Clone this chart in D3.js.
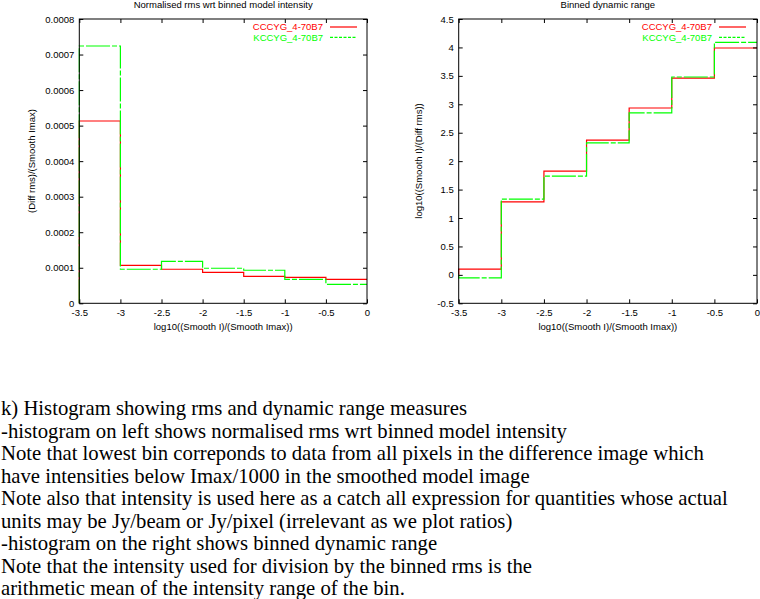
<!DOCTYPE html>
<html><head><meta charset="utf-8">
<script src="https://cdn.jsdelivr.net/npm/d3@7"></script>
<style>body{margin:0;background:#fff}svg{display:block}</style>
</head><body>
<svg id="c" width="760" height="599"></svg>
<script>
// ---- data ----
const binEdges = [-3.5, -3, -2.5, -2, -1.5, -1, -0.5, 0];
const seriesNames = ["CCCYG_4-70B7", "KCCYG_4-70B7"];
const rmsCCCYG = [0.000513, 0.000107, 0.0000958, 0.0000873, 0.0000760, 0.0000732, 0.0000676];
const rmsKCCYG = [0.000724, 0.0000958, 0.000118, 0.0000986, 0.0000930, 0.0000676, 0.0000535];
const drCCCYG = [0.10, 1.285, 1.826, 2.37, 2.935, 3.46, 3.99];
const drKCCYG = [-0.053, 1.333, 1.737, 2.32, 2.85, 3.48, 4.09];
const xTicks = [-3.5, -3, -2.5, -2, -1.5, -1, -0.5, 0];
const xTickLabels = ["-3.5", "-3", "-2.5", "-2", "-1.5", "-1", "-0.5", "0"];
const yTicksLeft = [0, 0.0001, 0.0002, 0.0003, 0.0004, 0.0005, 0.0006, 0.0007, 0.0008];
const yTickLabelsLeft = ["0", "0.0001", "0.0002", "0.0003", "0.0004", "0.0005", "0.0006", "0.0007", "0.0008"];
const yTicksRight = [-0.5, 0, 0.5, 1, 1.5, 2, 2.5, 3, 3.5, 4, 4.5];
const yTickLabelsRight = ["-0.5", "0", "0.5", "1", "1.5", "2", "2.5", "3", "3.5", "4", "4.5"];
const captionLines = [
  "k) Histogram showing rms and dynamic range measures",
  "-histogram on left shows normalised rms wrt binned model intensity",
  "Note that lowest bin correponds to data from all pixels in the difference image which",
  "have intensities below Imax/1000 in the smoothed model image",
  "Note also that intensity is used here as a catch all expression for quantities whose actual",
  "units may be Jy/beam or Jy/pixel (irrelevant as we plot ratios)",
  "-histogram on the right shows binned dynamic range",
  "Note that the intensity used for division by the binned rms is the",
  "arithmetic mean of the intensity range of the bin."
];

const svg = d3.select("#c");
const colors = ["#ff0000", "#00ff00"];
const FONT = "'Liberation Sans', Arial, sans-serif";

function panel(opt) {
  const x = d3.scaleLinear().domain([-3.5, 0]).range([opt.x0, opt.x1]);
  const y = d3.scaleLinear().domain(opt.yDomain).range([303.3, 19]);
  const g = svg.append("g");
  const fmtX = v => xTickLabels[xTicks.indexOf(v)];
  const fmtY = v => opt.yLabels[opt.yTicks.indexOf(v)];

  // step lines
  const line = d3.line().x(d => x(d[0])).y(d => y(d[1])).curve(d3.curveStepAfter);
  opt.series.forEach((vals, k) => {
    const pts = [[binEdges[0], 0]];
    vals.forEach((v, i) => pts.push([binEdges[i], v]));
    pts.push([binEdges[binEdges.length - 1], vals[vals.length - 1]]);
    g.append("path").attr("d", line(pts)).attr("fill", "none")
      .attr("stroke", colors[k]).attr("stroke-width", 1.2)
      .attr("stroke-dasharray", k === 1 ? "24,2,5,2" : null);
  });

  // border
  g.append("rect").attr("x", opt.x0).attr("y", 19).attr("width", opt.x1 - opt.x0).attr("height", 303.3 - 19)
    .attr("fill", "none").attr("stroke", "#000").attr("stroke-width", 1);

  const axStyle = sel => {
    sel.select(".domain").remove();
    sel.selectAll("text").attr("font-family", FONT).attr("font-size", 9.5).attr("fill", "#000");
    sel.selectAll("line").attr("stroke", "#000");
  };
  g.append("g").attr("transform", `translate(0,303.3)`)
    .call(d3.axisBottom(x).tickValues(xTicks).tickFormat(fmtX).tickSize(-4).tickSizeOuter(0).tickPadding(6)).call(axStyle);
  g.append("g").attr("transform", `translate(0,19)`)
    .call(d3.axisTop(x).tickValues(xTicks).tickFormat("").tickSize(-4).tickSizeOuter(0)).call(axStyle);
  g.append("g").attr("transform", `translate(${opt.x0},0)`)
    .call(d3.axisLeft(y).tickValues(opt.yTicks).tickFormat(fmtY).tickSize(-4).tickSizeOuter(0).tickPadding(5)).call(axStyle);
  g.append("g").attr("transform", `translate(${opt.x1},0)`)
    .call(d3.axisRight(y).tickValues(opt.yTicks).tickFormat("").tickSize(-4).tickSizeOuter(0)).call(axStyle);

  const cx = (opt.x0 + opt.x1) / 2;
  g.append("text").attr("x", cx).attr("y", 8).attr("text-anchor", "middle")
    .attr("font-family", FONT).attr("font-size", 9.5).text(opt.title);
  g.append("text").attr("x", cx).attr("y", 330).attr("text-anchor", "middle")
    .attr("font-family", FONT).attr("font-size", 9.5).text("log10((Smooth I)/(Smooth Imax))");
  g.append("text").attr("transform", `translate(${opt.ylx},161) rotate(-90)`).attr("dy", "0.35em")
    .attr("text-anchor", "middle").attr("font-family", FONT).attr("font-size", 9.5).text(opt.ylabel);

  // legend
  seriesNames.forEach((n, k) => {
    const ly = 27 + k * 10.3;
    g.append("text").attr("x", opt.legX).attr("y", ly).attr("dy", "0.35em").attr("text-anchor", "end")
      .attr("font-family", FONT).attr("font-size", 9.5).attr("fill", colors[k]).text(n);
    g.append("line").attr("x1", opt.legX + 7).attr("x2", opt.legX + 34).attr("y1", ly).attr("y2", ly)
      .attr("stroke", colors[k]).attr("stroke-width", 1.2)
      .attr("stroke-dasharray", k === 1 ? "3,1.5" : null);
  });
}

panel({x0: 79.3, x1: 367, yDomain: [0, 0.0008], yTicks: yTicksLeft, yLabels: yTickLabelsLeft,
  series: [rmsCCCYG, rmsKCCYG], title: "Normalised rms wrt binned model intensity",
  ylabel: "(Diff rms)/(Smooth Imax)", ylx: 31.7, legX: 323});
panel({x0: 458.7, x1: 757, yDomain: [-0.5, 4.5], yTicks: yTicksRight, yLabels: yTickLabelsRight,
  series: [drCCCYG, drKCCYG], title: "Binned dynamic range",
  ylabel: "log10((Smooth I)/(Diff rms))", ylx: 418.3, legX: 712});

// caption
const cap = svg.append("g").attr("font-family", "'Liberation Serif', 'Times New Roman', serif").attr("font-size", 18);
const texts = captionLines.map((t, i) => cap.append("text").attr("x", 1).attr("y", 415 + i * 22.5).text(t));
const w = texts[4].node().getComputedTextLength();
const fs = 18 * 727 / w;
cap.attr("font-size", fs);
</script>
</body></html>
